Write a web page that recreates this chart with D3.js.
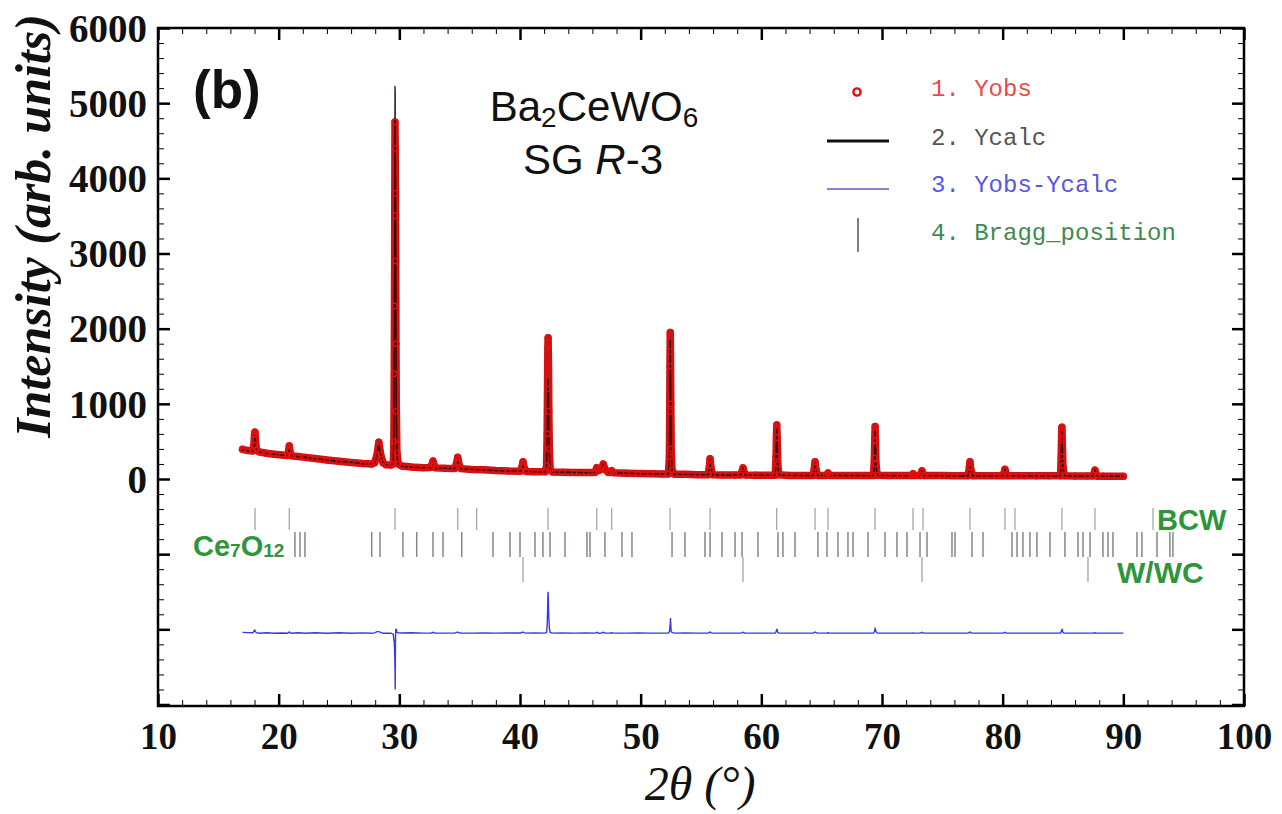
<!DOCTYPE html>
<html>
<head>
<meta charset="utf-8">
<script src="https://cdn.jsdelivr.net/npm/d3@7"></script>
<style>
  html, body { margin: 0; padding: 0; background: #fff; }
  svg { display: block; }
</style>
</head>
<body>
<svg id="chart" width="1282" height="814"></svg>
<script>
// Rietveld refinement of Ba2CeWO6 (2θ in degrees, intensity in counts)
const twoTheta = [
  17.0, 17.5, 17.85, 17.95, 18.0, 18.04, 18.08, 18.15, 18.4, 19.0,
  19.6, 20.3, 20.75, 20.83, 20.88, 20.93, 21.05, 21.6, 22.2, 23.0,
  24.0, 25.0, 26.0, 27.0, 27.7, 27.95, 28.15, 28.3, 28.45, 28.65,
  28.9, 29.3, 29.5, 29.55, 29.58, 29.6, 29.62, 29.64, 29.66, 29.68,
  29.7, 29.72, 29.75, 29.8, 29.9, 30.2, 31.0, 32.0, 32.6, 32.72,
  32.79, 32.86, 33.0, 33.8, 34.6, 34.76, 34.84, 34.92, 35.1, 36.0,
  37.0, 38.0, 39.0, 40.05, 40.18, 40.25, 40.32, 40.5, 41.2, 42.1,
  42.2, 42.25, 42.28, 42.31, 42.33, 42.36, 42.39, 42.43, 42.5, 42.7,
  43.5, 44.5, 45.5, 46.2, 46.36, 46.5, 46.75, 46.9, 47.05, 47.3,
  47.45, 47.6, 47.75, 48.8, 49.8, 50.8, 51.8, 52.3, 52.38, 52.41,
  52.43, 52.45, 52.47, 52.5, 52.53, 52.6, 52.8, 53.7, 54.7, 55.6,
  55.7, 55.75, 55.8, 55.95, 56.8, 57.8, 58.3, 58.48, 58.65, 59.5,
  60.5, 61.15, 61.22, 61.25, 61.28, 61.31, 61.36, 61.45, 62.3, 63.3,
  64.3, 64.4, 64.45, 64.5, 64.65, 65.38, 65.52, 65.66, 66.5, 67.5,
  68.5, 69.3, 69.37, 69.4, 69.43, 69.46, 69.5, 69.6, 70.5, 71.5,
  72.45, 72.57, 72.7, 73.18, 73.31, 73.45, 74.0, 75.0, 76.0, 77.15,
  77.24, 77.29, 77.34, 77.5, 78.5, 79.5, 80.05, 80.19, 80.33, 80.9,
  81.8, 82.8, 83.8, 84.8, 84.85, 84.88, 84.91, 84.94, 84.99, 85.1,
  86.0, 87.0, 87.5, 87.65, 87.8, 88.3, 89.0, 90.0
];

const yObs = [
  395, 378, 372, 450, 600, 625, 520, 390, 360, 342,
  330, 318, 312, 380, 440, 375, 310, 300, 288, 272,
  252, 236, 220, 205, 198, 215, 320, 490, 330, 215,
  190, 185, 200, 500, 1400, 2300, 3500, 4750, 4400, 3800,
  2900, 1800, 900, 350, 200, 172, 160, 150, 152, 200,
  240, 195, 148, 142, 140, 220, 290, 210, 138, 127,
  122, 112, 106, 104, 170, 230, 160, 100, 96, 95,
  180, 600, 1200, 1750, 1880, 1500, 900, 400, 130, 92,
  90, 87, 85, 86, 150, 110, 130, 200, 130, 88,
  86, 110, 84, 78, 73, 70, 66, 66, 300, 900,
  1500, 1950, 1700, 1000, 400, 120, 64, 62, 58, 56,
  180, 270, 180, 56, 54, 52, 54, 150, 54, 51,
  50, 50, 300, 550, 720, 550, 200, 55, 48, 47,
  47, 160, 230, 160, 47, 46, 80, 46, 46, 46,
  45, 45, 280, 520, 700, 500, 200, 50, 45, 45,
  45, 70, 45, 45, 110, 45, 45, 45, 44, 44,
  160, 230, 150, 44, 44, 43, 43, 130, 43, 43,
  42, 42, 42, 42, 300, 550, 690, 520, 180, 42,
  40, 39, 39, 120, 38, 38, 37, 35
];

const yCalc = [
  385, 372, 368, 430, 560, 590, 500, 385, 362, 338,
  332, 316, 314, 370, 425, 370, 312, 296, 290, 268,
  254, 232, 222, 202, 200, 212, 300, 470, 320, 218,
  192, 186, 215, 600, 1500, 2500, 3800, 5230, 5150, 3900,
  2850, 1750, 850, 340, 195, 170, 156, 151, 150, 195,
  230, 190, 147, 143, 140, 210, 275, 205, 137, 128,
  120, 113, 105, 103, 160, 215, 155, 100, 95, 95,
  170, 500, 950, 1250, 1330, 1150, 700, 330, 120, 92,
  89, 87, 84, 86, 140, 112, 128, 190, 128, 88,
  86, 105, 84, 78, 72, 70, 67, 66, 280, 850,
  1400, 1850, 1500, 900, 380, 110, 64, 61, 58, 56,
  170, 255, 175, 56, 54, 53, 54, 140, 54, 51,
  50, 50, 280, 520, 670, 500, 190, 55, 48, 47,
  47, 150, 215, 150, 47, 46, 75, 46, 46, 46,
  45, 45, 260, 480, 640, 450, 180, 50, 45, 45,
  45, 68, 45, 45, 100, 45, 45, 45, 44, 44,
  150, 215, 145, 44, 44, 43, 43, 120, 43, 43,
  42, 42, 42, 42, 280, 520, 640, 470, 170, 42,
  40, 39, 39, 115, 38, 38, 37, 35
];

// Bragg reflection positions (2θ) for each refined phase
const braggBCW = [
  18.04, 20.88, 29.64, 34.84, 36.41, 42.32, 46.36, 47.6, 52.43, 55.75,
  61.27, 64.45, 65.52, 69.42, 72.57, 73.4, 77.29, 80.19, 81.02, 84.91,
  87.65, 92.46
];
const braggCe7O12 = [
  21.35, 21.77, 22.18, 27.71, 28.4, 30.3, 31.44, 32.79, 33.62, 35.17,
  37.76, 39.17, 40.0, 41.24, 41.9, 42.49, 43.73, 45.55, 45.8, 47.04,
  48.45, 49.28, 52.6, 53.67, 55.33, 55.75, 56.74, 57.82, 58.4, 59.72,
  61.38, 61.79, 62.79, 64.69, 65.44, 66.35, 67.18, 67.6, 68.84, 70.25,
  71.24, 72.07, 73.15, 73.73, 75.8, 76.05, 77.46, 78.37, 80.77, 81.19,
  81.68, 82.26, 82.84, 83.92, 85.16, 86.24, 86.66, 87.24, 88.31, 88.73,
  89.14, 91.13, 91.54, 92.79, 93.86, 94.11
];
const braggW = [40.25, 58.48, 73.31, 87.07];

const xMajorTicks = [10, 20, 30, 40, 50, 60, 70, 80, 90, 100];
const yMajorTicks = [-3000, -2000, -1000, 0, 1000, 2000, 3000, 4000, 5000, 6000];
const yLabelTicks = [0, 1000, 2000, 3000, 4000, 5000, 6000];
const diffOffset = -2050;

const legendItems = ["1. Yobs", "2. Ycalc", "3. Yobs-Ycalc", "4. Bragg_position"];

// ---------------------------------------------------------------------------
const svg = d3.select("#chart");
const pLeft = 158, pRight = 1244, pTop = 28, pBottom = 706;
const x = d3.scaleLinear().domain([10, 100]).range([pLeft, pRight]);
const y = d3.scaleLinear().domain([-3020, 6000]).range([pBottom, pTop]);

const serif = "'Liberation Serif', 'Times New Roman', serif";
const sans = "'Liberation Sans', Arial, sans-serif";
const mono = "'Liberation Mono', 'Courier New', monospace";

const pts = twoTheta.map((t, i) => ({ t, obs: yObs[i], calc: yCalc[i] }));

const plot = svg.append("g");

// observed profile: dense red band plus open circles
const obsLine = d3.line().x(d => x(d.t)).y(d => y(d.obs));
plot.append("path").datum(pts)
  .attr("d", obsLine)
  .attr("fill", "none")
  .attr("stroke", "#d01212")
  .attr("stroke-width", 7.5)
  .attr("stroke-linejoin", "round")
  .attr("stroke-linecap", "round");

// calculated profile
const calcLine = d3.line().x(d => x(d.t)).y(d => y(d.calc));
plot.append("path").datum(pts)
  .attr("d", calcLine)
  .attr("fill", "none")
  .attr("stroke", "#1a0000")
  .attr("stroke-width", 1.4)
  .attr("stroke-opacity", 0.85);

plot.append("g").selectAll("circle").data(pts).join("circle")
  .attr("cx", d => x(d.t))
  .attr("cy", d => y(d.obs))
  .attr("r", 2.8)
  .attr("fill", "none")
  .attr("stroke", "#e01010")
  .attr("stroke-width", 1.5);

// difference curve
const diffLine = d3.line().x(d => x(d.t)).y(d => y(d.obs - d.calc + diffOffset));
plot.append("path").datum(pts)
  .attr("d", diffLine)
  .attr("fill", "none")
  .attr("stroke", "#3a3ae0")
  .attr("stroke-width", 1.4);

// Bragg tick rows
function braggRow(data, y0, y1, color, width) {
  plot.append("g").selectAll("line").data(data).join("line")
    .attr("x1", d => x(d)).attr("x2", d => x(d))
    .attr("y1", y0).attr("y2", y1)
    .attr("stroke", color)
    .attr("stroke-width", width);
}
braggRow(braggBCW, 508, 530, "#a4a8a4", 1.3);
braggRow(braggCe7O12, 532, 557, "#7f8c80", 1.5);
braggRow(braggW, 557, 582, "#a0a4a0", 1.3);

// phase labels
const green = "#2e953a";
svg.append("text").attr("x", 1157).attr("y", 530)
  .attr("font-family", sans).attr("font-weight", "bold").attr("font-size", 29)
  .attr("fill", green).text("BCW");
svg.append("text").attr("x", 1117).attr("y", 583)
  .attr("font-family", sans).attr("font-weight", "bold").attr("font-size", 30)
  .attr("fill", green).text("W/WC");
const ce = svg.append("text").attr("x", 193).attr("y", 556)
  .attr("font-family", sans).attr("font-weight", "bold").attr("font-size", 29)
  .attr("fill", green);
ce.append("tspan").text("Ce");
ce.append("tspan").attr("font-size", 19).attr("dy", 1).text("7");
ce.append("tspan").attr("dy", -1).text("O");
ce.append("tspan").attr("font-size", 19).attr("dy", 1).text("12");

// axes (ticks point inward on all four sides)
const axisStyle = g => {
  g.select(".domain").remove();
  g.selectAll(".tick line").attr("stroke", "#000");
};
const xMinor = d3.range(10, 101, 2).filter(v => v % 10 !== 0);
const yMinor = d3.range(-3000, 6001, 200).filter(v => v % 1000 !== 0);

const gxB = svg.append("g").attr("transform", `translate(0,${pBottom})`)
  .call(d3.axisBottom(x).tickValues(xMajorTicks).tickSize(-12).tickFormat(d3.format("d")))
  .call(axisStyle);
gxB.selectAll(".tick line").attr("stroke-width", 2.5);
gxB.selectAll(".tick text")
  .attr("y", 43).attr("dy", null)
  .attr("font-family", serif).attr("font-weight", "bold").attr("font-size", 37)
  .attr("fill", "#111");
svg.append("g").attr("transform", `translate(0,${pBottom})`)
  .call(d3.axisBottom(x).tickValues(xMinor).tickSize(-6).tickFormat(""))
  .call(axisStyle).selectAll(".tick line").attr("stroke-width", 1);

const gxT = svg.append("g").attr("transform", `translate(0,${pTop})`)
  .call(d3.axisTop(x).tickValues(xMajorTicks).tickSize(-12).tickFormat(""))
  .call(axisStyle);
gxT.selectAll(".tick line").attr("stroke-width", 2.5);
svg.append("g").attr("transform", `translate(0,${pTop})`)
  .call(d3.axisTop(x).tickValues(xMinor).tickSize(-6).tickFormat(""))
  .call(axisStyle).selectAll(".tick line").attr("stroke-width", 1);

const gyL = svg.append("g").attr("transform", `translate(${pLeft},0)`)
  .call(d3.axisLeft(y).tickValues(yMajorTicks).tickSize(-12)
    .tickFormat(d => yLabelTicks.includes(d) ? d3.format("d")(d) : ""))
  .call(axisStyle);
gyL.selectAll(".tick line").attr("stroke-width", 2.5);
gyL.selectAll(".tick text")
  .attr("x", -11).attr("dy", "0.34em")
  .attr("font-family", serif).attr("font-weight", "bold").attr("font-size", 39)
  .attr("fill", "#111");
svg.append("g").attr("transform", `translate(${pLeft},0)`)
  .call(d3.axisLeft(y).tickValues(yMinor).tickSize(-6).tickFormat(""))
  .call(axisStyle).selectAll(".tick line").attr("stroke-width", 1);

const gyR = svg.append("g").attr("transform", `translate(${pRight},0)`)
  .call(d3.axisRight(y).tickValues(yMajorTicks).tickSize(-12).tickFormat(""))
  .call(axisStyle);
gyR.selectAll(".tick line").attr("stroke-width", 2.5);
svg.append("g").attr("transform", `translate(${pRight},0)`)
  .call(d3.axisRight(y).tickValues(yMinor).tickSize(-6).tickFormat(""))
  .call(axisStyle).selectAll(".tick line").attr("stroke-width", 1);

// frame
svg.append("rect")
  .attr("x", pLeft).attr("y", pTop)
  .attr("width", pRight - pLeft).attr("height", pBottom - pTop)
  .attr("fill", "none").attr("stroke", "#000").attr("stroke-width", 2.5);

// axis titles
svg.append("text")
  .attr("transform", "translate(50,226) rotate(-90)")
  .attr("text-anchor", "middle")
  .attr("font-family", serif).attr("font-weight", "bold").attr("font-style", "italic")
  .attr("font-size", 50).attr("fill", "#111")
  .text("Intensity (arb. units)");
svg.append("text")
  .attr("x", 700).attr("y", 800)
  .attr("text-anchor", "middle")
  .attr("font-family", serif).attr("font-style", "italic")
  .attr("font-size", 48).attr("fill", "#111")
  .text("2θ (°)");

// panel tag and compound
svg.append("text").attr("x", 193).attr("y", 108)
  .attr("font-family", sans).attr("font-weight", "bold").attr("font-size", 53)
  .attr("fill", "#111").text("(b)");
const cmp = svg.append("text").attr("x", 594).attr("y", 121)
  .attr("text-anchor", "middle")
  .attr("font-family", sans).attr("font-size", 42).attr("fill", "#111");
cmp.append("tspan").text("Ba");
cmp.append("tspan").attr("font-size", 28).attr("dy", 6).text("2");
cmp.append("tspan").attr("dy", -6).text("CeWO");
cmp.append("tspan").attr("font-size", 28).attr("dy", 6).text("6");
const sg = svg.append("text").attr("x", 593).attr("y", 174)
  .attr("text-anchor", "middle")
  .attr("font-family", sans).attr("font-size", 42).attr("fill", "#111");
sg.append("tspan").text("SG ");
sg.append("tspan").attr("font-style", "italic").text("R");
sg.append("tspan").text("-3");

// legend
const legendColors = ["#e84a4a", "#555555", "#5757dd", "#3f8a4f"];
const legendY = [88, 137, 184, 232];
const lg = svg.append("g");
lg.selectAll("text").data(legendItems).join("text")
  .attr("x", 931).attr("y", (d, i) => legendY[i] + 8)
  .attr("font-family", mono).attr("font-size", 24)
  .attr("fill", (d, i) => legendColors[i])
  .text(d => d);
lg.append("circle").attr("cx", 857).attr("cy", 92).attr("r", 3.6)
  .attr("fill", "none").attr("stroke", "#e01010").attr("stroke-width", 2.4);
lg.append("line").attr("x1", 827).attr("x2", 889).attr("y1", 141).attr("y2", 141)
  .attr("stroke", "#111").attr("stroke-width", 3);
lg.append("line").attr("x1", 827).attr("x2", 889).attr("y1", 189).attr("y2", 189)
  .attr("stroke", "#5a5ad0").attr("stroke-width", 1.5);
lg.append("line").attr("x1", 858).attr("x2", 858).attr("y1", 218).attr("y2", 252)
  .attr("stroke", "#555").attr("stroke-width", 1.5);
</script>
</body>
</html>
